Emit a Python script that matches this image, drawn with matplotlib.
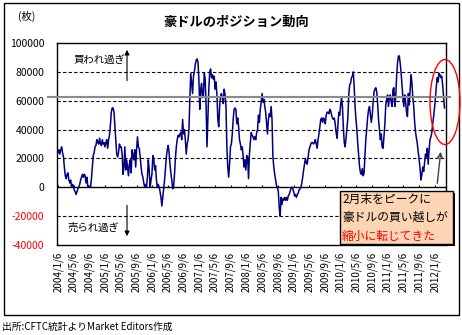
import matplotlib
matplotlib.use('Agg')
import matplotlib.pyplot as plt
from matplotlib.patches import Rectangle, Ellipse
import pandas as pd

plt.rcParams['font.family'] = ['Noto Sans CJK JP', 'DejaVu Sans']

# 週次データ（千枚単位、グラフから読み取り）
start_date = '2004-01-06'
position_k = [
    24, 26, 23, 26, 28, 24, 21, 14, 8, 6,
    9, 10, 5, 3, 5, 0, 2, 1, -2, -3,
    -5, -3, -1, 0, 2, 5, 7, 9, 7, 9,
    8, 3, 7, 0, 1, 0, 0, 6, 14, 22,
    24, 28, 29, 33, 31, 30, 34, 30, 29, 33,
    30, 31, 28, 31, 33, 27, 33, 36, 43, 52,
    55, 55, 52, 42, 33, 23, 21, 24, 30, 28,
    28, 23, 9, 14, 28, 12, 19, 14, 8, 16,
    19, 10, 26, 22, 19, 26, 14, 26, 35, 28,
    27, 21, 14, 9, 7, 3, 0, 2, 0, 7,
    19, 12, 0, 5, 9, 22, 20, 12, 15, 5,
    0, 2, 0, -3, -7, -13, -7, -1, 5, 13,
    21, 26, 29, 24, 16, 10, 5, -1, 0, 9,
    20, 28, 33, 36, 35, 37, 38, 33, 47, 37,
    40, 33, 23, 30, 33, 40, 61, 79, 72, 65,
    77, 80, 85, 88, 89, 87, 75, 54, 68, 72,
    62, 64, 79, 75, 56, 28, 49, 68, 80, 82,
    76, 78, 75, 77, 68, 73, 64, 47, 42, 56,
    63, 65, 62, 58, 68, 64, 56, 28, 14, 7,
    16, 28, 30, 37, 47, 54, 55, 54, 44, 48,
    42, 33, 30, 26, 28, 22, 14, 19, 12, 22,
    21, 6, 23, 31, 38, 36, 35, 33, 35, 33,
    38, 40, 50, 45, 54, 59, 65, 59, 61, 56,
    52, 44, 37, 47, 51, 49, 56, 47, 21, 14,
    9, 5, 1, 0, -3, -14, -20, -7, -12, -8,
    -9, -7, -9, -7, -9, -6, -5, -3, -1, 0,
    -1, -3, -6, -5, -7, -5, -4, -2, -1, 0,
    3, 7, 12, 16, 20, 17, 16, 21, 26, 28,
    30, 31, 31, 30, 31, 33, 30, 27, 33, 37,
    42, 47, 48, 45, 48, 47, 44, 50, 52, 52,
    51, 54, 53, 50, 48, 47, 48, 44, 38, 34,
    43, 52, 50, 57, 62, 56, 42, 31, 28, 34,
    41, 48, 64, 71, 72, 76, 77, 80, 70, 56,
    47, 40, 30, 22, 14, 10, 9, 13, 8, 10,
    23, 34, 41, 49, 54, 56, 50, 45, 50, 59,
    66, 68, 69, 66, 58, 47, 40, 33, 37, 28,
    27, 35, 44, 57, 61, 64, 56, 62, 64, 59,
    56, 68, 69, 56, 62, 77, 86, 91, 91, 86,
    79, 70, 62, 56, 64, 59, 52, 49, 65, 57,
    68, 78, 72, 62, 56, 45, 38, 34, 30, 24,
    19, 13, 5, 9, 14, 11, 17, 23, 21, 27,
    16, 26, 33, 35, 38, 44, 49, 55, 62, 70,
    76, 73, 79, 78, 76, 77, 71, 63, 55,
]

tick_labels = [
    '2004/1/6', '2004/5/6', '2004/9/6', '2005/1/6', '2005/5/6', '2005/9/6',
    '2006/1/6', '2006/5/6', '2006/9/6', '2007/1/6', '2007/5/6', '2007/9/6',
    '2008/1/6', '2008/5/6', '2008/9/6', '2009/1/6', '2009/5/6', '2009/9/6',
    '2010/1/6', '2010/5/6', '2010/9/6', '2011/1/6', '2011/5/6', '2011/9/6',
    '2012/1/6',
]
y_ticks = [-40000, -20000, 0, 20000, 40000, 60000, 80000, 100000]
grid_levels = [-20000, 20000, 40000, 60000, 80000]
ref_level = 62500

dates = pd.date_range(start_date, periods=len(position_k), freq='7D')
values = [v * 1000 for v in position_k]
tick_dates = pd.to_datetime(tick_labels, format='%Y/%m/%d')

W, H = 462, 335
fig = plt.figure(figsize=(W / 100, H / 100), dpi=100)
ax = fig.add_axes([57 / W, 1 - 245 / H, 389 / W, 202 / H])

# グリッド線
for lv in grid_levels:
    ax.axhline(lv, color='black', lw=0.8, ls=(0, (3, 2)), zorder=1)
ax.axhline(0, color='black', lw=1, zorder=2)
ax.vlines(tick_dates, 0, 1800, color='black', lw=0.8, zorder=2)

ax.plot(dates, values, color='#000080', lw=1.1, zorder=3)

# 水平の参考線
ax.plot([-0.023, 1.01], [ref_level, ref_level], transform=ax.get_yaxis_transform(),
        color='#8a8a8a', lw=1.5, clip_on=False, zorder=4)

ax.set_ylim(-40000, 100000)
ax.set_xlim(pd.Timestamp('2003-12-29'), pd.Timestamp('2012-04-01'))

ax.set_xticks(tick_dates)
ax.set_xticklabels(tick_labels, rotation=90, fontsize=7)
ax.tick_params(axis='x', length=0, pad=5)
ax.set_yticks(y_ticks)
ax.set_yticklabels([str(v) for v in y_ticks], fontsize=7.5)
for lab, v in zip(ax.get_yticklabels(), y_ticks):
    lab.set_color('red' if v < 0 else 'black')
ax.tick_params(axis='y', length=0, pad=9)
for s in ax.spines.values():
    s.set_linewidth(1)
    s.set_color('black')

# 注記
ax.text(0.108, 0.915, '買われ過ぎ', transform=ax.transAxes, fontsize=7.5,
        ha='center', va='center')
ax.annotate('', xy=(0.18, 0.98), xytext=(0.18, 0.80), xycoords='axes fraction',
            arrowprops=dict(arrowstyle='-|>', color='black', lw=0.8, mutation_scale=7))
ax.text(0.094, 0.085, '売られ過ぎ', transform=ax.transAxes, fontsize=7.5,
        ha='center', va='center')
ax.annotate('', xy=(0.18, 0.03), xytext=(0.18, 0.21), xycoords='axes fraction',
            arrowprops=dict(arrowstyle='-|>', color='black', lw=0.8, mutation_scale=7))

fig.text(236 / W, 1 - 22 / H, '豪ドルのポジション動向', fontsize=9.5, weight='bold',
         ha='center', va='center')
fig.text(27 / W, 1 - 16 / H, '(枚)', fontsize=7.5, ha='center', va='center')
fig.text(2 / W, 1 - 327 / H, '出所:CFTC統計よりMarket Editors作成', fontsize=7,
         ha='left', va='center')

# 外枠
fig.patches.append(Rectangle((4 / W, 1 - 315 / H), 455 / W, 312 / H,
                             transform=fig.transFigure, fill=False, ec='black', lw=1))

# 赤い楕円と矢印
fig.patches.append(Ellipse((445 / W, 1 - 102 / H), 30 / W, 85 / H,
                           transform=fig.transFigure, fill=False, ec='red', lw=1, zorder=5))
fig.patches.append(Rectangle((342 / W, 1 - 246 / H), 113 / W, 53 / H,
                             transform=fig.transFigure, fc='black', ec='none', zorder=5))
fig.patches.append(Rectangle((340 / W, 1 - 244 / H), 113 / W, 53 / H,
                             transform=fig.transFigure, fc='#FCD5B4', ec='black', lw=1, zorder=6))
ax.annotate('', xy=(441 / W, 1 - 149 / H), xytext=(437 / W, 1 - 186 / H),
            xycoords='figure fraction',
            arrowprops=dict(arrowstyle='->', color='#404040', lw=1, mutation_scale=9))

box_lines = [('2月末をピークに', 'black'), ('豪ドルの買い越しが', 'black'),
             ('縮小に転じてきた', 'red')]
for (txt, col), yy in zip(box_lines, [199, 217, 236]):
    fig.text(342 / W, 1 - yy / H, txt, fontsize=8.5, color=col, ha='left',
             va='center', zorder=7)

fig.savefig('out.png', dpi=100)
